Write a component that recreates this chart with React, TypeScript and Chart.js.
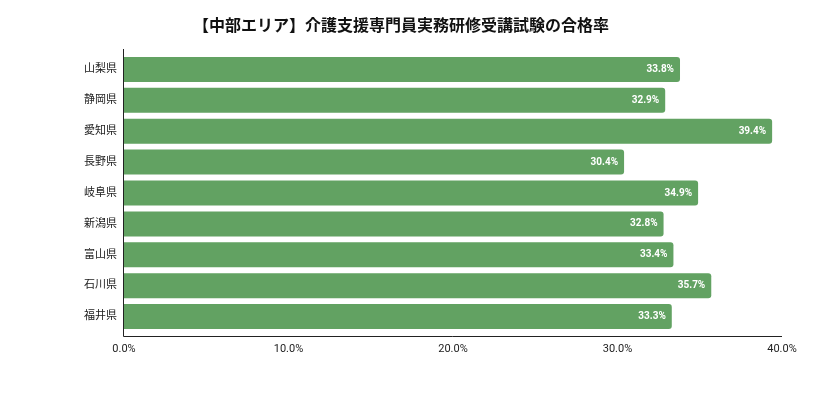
import React, { useEffect, useRef } from "react";
import { Chart, registerables } from "chart.js";

Chart.register(...registerables);

const categories = ["山梨県", "静岡県", "愛知県", "長野県", "岐阜県", "新潟県", "富山県", "石川県", "福井県"];
const passRates = [33.8, 32.9, 39.4, 30.4, 34.9, 32.8, 33.4, 35.7, 33.3];
const xTicks = [0, 10, 20, 30, 40];
const titleText = "【中部エリア】介護支援専門員実務研修受講試験の合格率";

const FONT = "Roboto, 'Noto Sans CJK JP', sans-serif";

const axisLines = {
  id: "axisLines",
  afterDatasetsDraw(chart: any) {
    const { ctx, chartArea } = chart;
    ctx.save();
    ctx.strokeStyle = "#222";
    ctx.lineWidth = 1;
    ctx.beginPath();
    const x0 = Math.round(chartArea.left) - 0.5;
    const yb = Math.round(chartArea.bottom + 5) - 0.5;
    ctx.moveTo(x0, chartArea.top - 5);
    ctx.lineTo(x0, yb);
    ctx.lineTo(chartArea.right, yb);
    ctx.stroke();
    ctx.restore();
  },
};

const customTitle = {
  id: "customTitle",
  afterDraw(chart: any) {
    const { ctx } = chart;
    ctx.save();
    ctx.fillStyle = "#111";
    ctx.font = `bold 16px ${FONT}`;
    ctx.textAlign = "center";
    ctx.textBaseline = "middle";
    ctx.fillText(titleText, 401, 27);
    ctx.restore();
  },
};

const valueLabels = {
  id: "valueLabels",
  afterDatasetsDraw(chart: any) {
    const { ctx } = chart;
    const meta = chart.getDatasetMeta(0);
    ctx.save();
    ctx.fillStyle = "#ffffff";
    ctx.font = `bold 10px ${FONT}`;
    ctx.textAlign = "right";
    ctx.textBaseline = "middle";
    meta.data.forEach((bar: any, i: number) => {
      ctx.fillText(passRates[i].toFixed(1) + "%", bar.x - 6, bar.y);
    });
    ctx.restore();
  },
};

export default function App() {
  const ref = useRef<HTMLCanvasElement>(null);
  useEffect(() => {
    document.body.style.margin = "0";
    const chart = new Chart(ref.current!, {
      type: "bar",
      data: {
        labels: categories,
        datasets: [
          {
            data: passRates,
            backgroundColor: "#62a262",
            borderRadius: 3,
            borderSkipped: "start",
            barPercentage: 0.81,
            categoryPercentage: 1,
          },
        ],
      },
      options: {
        indexAxis: "y",
        animation: false,
        responsive: true,
        maintainAspectRatio: false,
        layout: { padding: { left: 0, right: 31, top: 54, bottom: 0 } },
        plugins: {
          legend: { display: false },
          tooltip: { enabled: false },
          title: { display: false },
        },
        scales: {
          x: {
            min: 0,
            max: 40,
            afterBuildTicks(scale: any) {
              scale.ticks = xTicks.map((v) => ({ value: v }));
            },
            afterFit(scale: any) {
              scale.height = 78;
            },
            grid: { display: false, drawTicks: false },
            border: { display: false },
            ticks: {
              padding: 11,
              color: "#222",
              font: { family: FONT, size: 11 },
              callback: (v: any) => Number(v).toFixed(1) + "%",
            },
          },
          y: {
            afterFit(scale: any) {
              scale.width = 124;
            },
            grid: { display: false, drawTicks: false },
            border: { display: false },
            ticks: {
              padding: 7,
              color: "#222",
              font: { family: FONT, size: 11 },
            },
          },
        },
      },
      plugins: [axisLines, valueLabels, customTitle],
    });
    return () => chart.destroy();
  }, []);
  return (
    <div style={{ width: 813, height: 410, position: "relative" }}>
      <canvas ref={ref} />
    </div>
  );
}
